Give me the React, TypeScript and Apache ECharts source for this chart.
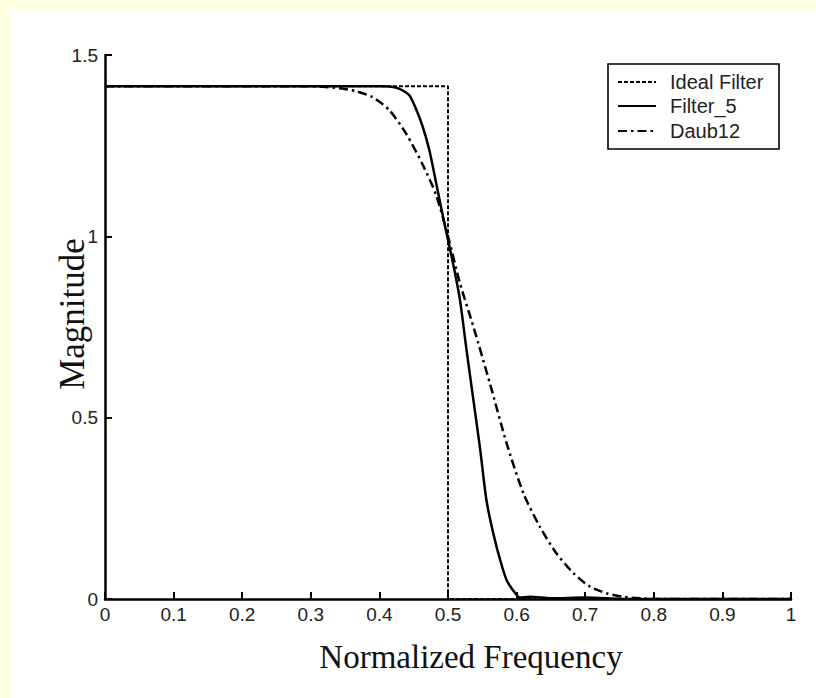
import React, { useEffect, useRef } from "react";
import * as echarts from "echarts";

// Frequency response data
const idealFreq = [0, 0.5, 0.5, 1];
const idealMag = [1.414, 1.414, 0, 0];

const filter5Freq = [0, 0.3, 0.4, 0.4145, 0.424, 0.434, 0.444, 0.453, 0.463, 0.473, 0.4825, 0.491, 0.5, 0.509, 0.5175, 0.527, 0.537, 0.547, 0.556, 0.566, 0.576, 0.5855, 0.598, 0.605, 0.62, 0.65, 0.7, 0.75, 0.8, 1];
const filter5Mag = [1.414, 1.414, 1.414, 1.413, 1.41, 1.402, 1.388, 1.353, 1.303, 1.236, 1.149, 1.07, 0.99, 0.91, 0.824, 0.687, 0.549, 0.411, 0.273, 0.181, 0.108, 0.052, 0.016, 0.004, 0.006, 0.002, 0.004, 0.001, 0, 0];

const daubFreq = [0, 0.27, 0.293, 0.317, 0.342, 0.366, 0.39, 0.4145, 0.439, 0.463, 0.4825, 0.5, 0.5175, 0.537, 0.561, 0.5855, 0.61, 0.634, 0.658, 0.683, 0.707, 0.731, 0.755, 0.78, 0.8, 1];
const daubMag = [1.414, 1.414, 1.4138, 1.4124, 1.4086, 1.4, 1.384, 1.348, 1.283, 1.198, 1.115, 1.0, 0.87, 0.751, 0.595, 0.429, 0.291, 0.199, 0.126, 0.071, 0.034, 0.016, 0.006, 0.002, 0, 0];

const legendNames = ["Ideal Filter", "Filter_5", "Daub12"];
const xTitle = "Normalized Frequency";
const yTitle = "Magnitude";

const pairs = (xs: number[], ys: number[]) => xs.map((x, i) => [x, ys[i]]);

const dashes: any[] = [[4, 2], "solid", [9, 4, 2.5, 4]];

export default function App() {
  const ref = useRef<HTMLDivElement>(null);
  useEffect(() => {
    if (!ref.current) return;
    const chart = echarts.init(ref.current, null, { renderer: "svg" });
    const sans = "Liberation Sans";
    const serif = "Liberation Serif";
    const legendX = 608;
    const legendY = 64;
    const rowY = [82, 106, 131];
    const graphics: any[] = [
      {
        type: "rect",
        shape: { x: legendX, y: legendY, width: 171, height: 85 },
        style: { fill: "#ffffff", stroke: "#000", lineWidth: 1.6 },
        z: 10,
      },
      {
        type: "text",
        x: 471,
        y: 657,
        style: { text: xTitle, font: `33px "${serif}"`, fill: "#111", textAlign: "center", textVerticalAlign: "middle" },
        z: 10,
      },
      {
        type: "text",
        x: 72,
        y: 314,
        rotation: Math.PI / 2,
        style: { text: yTitle, font: `35px "${serif}"`, fill: "#111", textAlign: "center", textVerticalAlign: "middle" },
        z: 10,
      },
    ];
    legendNames.forEach((name, i) => {
      const d = dashes[i];
      graphics.push({
        type: "line",
        shape: { x1: 618, y1: rowY[i], x2: 656, y2: rowY[i] },
        style: { stroke: "#000", lineWidth: 2.2, lineDash: d === "solid" ? null : d },
        z: 11,
      });
      graphics.push({
        type: "text",
        x: 670,
        y: rowY[i],
        style: { text: name, font: `20px "${sans}"`, fill: "#222", textAlign: "left", textVerticalAlign: "middle" },
        z: 11,
      });
    });

    const seriesData = [pairs(idealFreq, idealMag), pairs(filter5Freq, filter5Mag), pairs(daubFreq, daubMag)];
    const widths = [2, 2.5, 2.5];

    chart.setOption({
      animation: false,
      backgroundColor: "transparent",
      grid: { left: 105, right: 25, top: 55, bottom: 99, containLabel: false },
      xAxis: {
        type: "value",
        min: 0,
        max: 1,
        interval: 0.1,
        axisLine: { show: true, lineStyle: { color: "#000", width: 2.5 } },
        axisTick: { show: true, inside: true, length: 7, lineStyle: { color: "#000", width: 2 } },
        axisLabel: { color: "#222", fontSize: 19, fontFamily: sans, margin: 6 },
        splitLine: { show: false },
      },
      yAxis: {
        type: "value",
        min: 0,
        max: 1.5,
        interval: 0.5,
        axisLine: { show: true, lineStyle: { color: "#000", width: 2.5 } },
        axisTick: { show: true, inside: true, length: 7, lineStyle: { color: "#000", width: 2 } },
        axisLabel: { color: "#222", fontSize: 19, fontFamily: sans, margin: 7 },
        splitLine: { show: false },
      },
      graphic: graphics,
      series: legendNames.map((name, i) => ({
        name,
        type: "line",
        data: seriesData[i],
        showSymbol: false,
        symbol: "none",
        smooth: i === 0 ? false : 0.25,
        lineStyle: { color: "#000", width: widths[i], type: dashes[i] },
        z: 3 - i,
      })),
    });
    return () => chart.dispose();
  }, []);
  return (
    <div
      style={{ position: "fixed", left: 0, top: 0, width: 816, height: 698, background: "#ffffe1", overflow: "hidden" }}
    >
      <div style={{ position: "absolute", left: 10, top: 9, right: 0, bottom: 0, background: "#ffffff" }} />
      <div ref={ref} style={{ position: "absolute", left: 0, top: 0, width: 816, height: 698 }} />
    </div>
  );
}
